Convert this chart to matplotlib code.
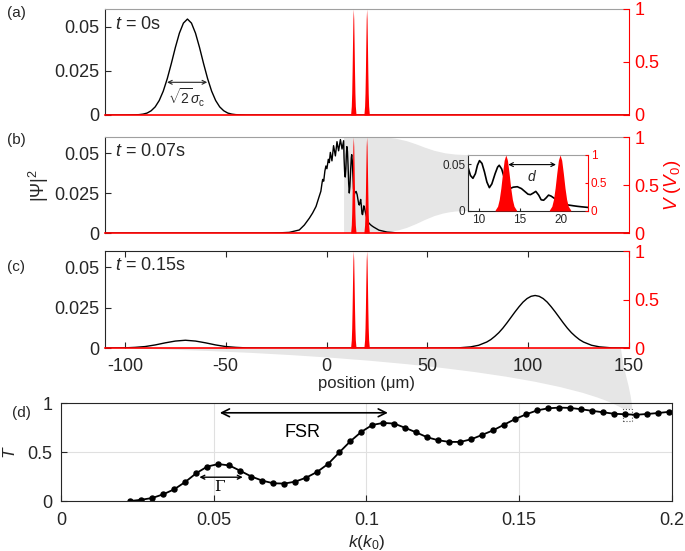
import matplotlib
matplotlib.use('Agg')
import matplotlib.pyplot as plt
from matplotlib.path import Path
from matplotlib.patches import PathPatch, Rectangle

plt.rcParams['font.family'] = ['Liberation Sans', 'DejaVu Sans']
plt.rcParams['mathtext.fontset'] = 'custom'
plt.rcParams['mathtext.rm'] = 'Liberation Sans'
plt.rcParams['mathtext.it'] = 'Liberation Sans:italic'
plt.rcParams['mathtext.bf'] = 'Liberation Sans:bold'
plt.rcParams['axes.unicode_minus'] = False

INK = '#262626'
FAN = '#e6e6e6'

# ---- values ----
# (a) t = 0 s
pos_a = [-110, -100, -95, -93, -91, -89, -87, -85, -83, -81, -79, -77, -75, -73, -71, -69,
         -67, -65, -63, -61, -59, -57, -55, -53, -51, -49, -47, -45, -43, -40, -30, 150]
psi_a = [0, 0, 0.0001, 0.0002, 0.0005, 0.0011, 0.0024, 0.0046, 0.0082, 0.0135, 0.0206, 0.0291,
         0.0382, 0.0463, 0.0520, 0.0543, 0.0520, 0.0463, 0.0382, 0.0291, 0.0206, 0.0135, 0.0082,
         0.0046, 0.0024, 0.0011, 0.0005, 0.0002, 0.0001, 0, 0, 0]

# (b) t = 0.07 s
pos_b = [-110, -30, -23.5, -18.5, -13.5, -11.0, -8.5, -6.9, -5.2, -4.4, -3.6, -2.8, -2.2, -1.9,
         -1.4, -0.8, -0.3, 0.2, 0.9, 1.4, 1.9, 2.7, 3.5, 4.4, 5.2, 6.0, 6.9, 7.7, 8.5, 8.7, 9.0,
         9.3, 9.6, 9.85, 10.1, 10.4, 10.7, 11.0, 11.3, 11.6, 12.0, 12.3, 12.5, 12.8, 13.1, 13.4,
         13.8, 14.2, 14.7, 15.2, 15.6, 16.0, 16.3, 16.6, 16.95, 17.3, 17.6, 17.9, 18.2, 18.5,
         18.8, 19.3, 19.9, 20.4, 20.9, 21.5, 22.0, 22.5, 23.3, 26.0, 30.0, 35.0, 40.0, 150]
psi_b = [0, 0, 0.0001, 0.0004, 0.0019, 0.0050, 0.0093, 0.0125, 0.0166, 0.0198, 0.0230, 0.0261,
         0.0314, 0.0335, 0.0324, 0.0388, 0.0419, 0.0402, 0.0461, 0.0440, 0.0504, 0.0451, 0.0546,
         0.0482, 0.0571, 0.0514, 0.0584, 0.0525, 0.0577, 0.047, 0.038, 0.035, 0.040, 0.049,
         0.054, 0.051, 0.042, 0.031, 0.025, 0.029, 0.040, 0.047, 0.049, 0.045, 0.036, 0.028,
         0.024, 0.0255, 0.026, 0.024, 0.021, 0.018, 0.0175, 0.019, 0.021, 0.017, 0.012, 0.0115,
         0.014, 0.017, 0.016, 0.013, 0.010, 0.008, 0.0064, 0.0056, 0.005, 0.0045, 0.0038,
         0.0018, 0.0006, 0.0001, 0, 0]

# (c) t = 0.15 s
pos_c = [-110, -100, -95, -90, -85, -80, -75, -70, -65, -60, -55, -50, -45, -40, -30, 55,
         65.5, 71.5, 75.5, 79.5, 81.5, 83.5, 85.5, 87.5, 89.5, 91.5, 93.5, 95.5, 97.5, 99.5,
         101.5, 103.5, 105.5, 107.5, 109.5, 111.5, 113.5, 115.5, 117.5, 119.5, 121.5, 123.5,
         125.5, 127.5, 131.5, 135.5, 141.5, 150]
psi_c = [0, 0.0001, 0.0004, 0.0009, 0.0019, 0.0032, 0.0043, 0.0048, 0.0043, 0.0032, 0.0019,
         0.0009, 0.0004, 0.0001, 0, 0, 0.0001, 0.0007, 0.0017, 0.0037, 0.0052, 0.0072, 0.0095,
         0.0123, 0.0155, 0.0189, 0.0223, 0.0255, 0.0284, 0.0306, 0.0320, 0.0325, 0.0320, 0.0306,
         0.0284, 0.0255, 0.0223, 0.0189, 0.0155, 0.0123, 0.0095, 0.0072, 0.0052, 0.0037, 0.0017,
         0.0007, 0.0001, 0]

# double-barrier potential V/V0
barrier_centers = [13.3, 19.9]
barrier_dx = [-1.3, -1.0, -0.8, -0.6, -0.4, -0.2, 0.0, 0.2, 0.4, 0.6, 0.8, 1.0, 1.3]
barrier_v = [0.015, 0.085, 0.206, 0.411, 0.674, 0.906, 1.0, 0.906, 0.674, 0.411, 0.206, 0.085, 0.015]

# (d) transmission
k_vals = [0.0227, 0.0263, 0.0299, 0.0335, 0.0371, 0.0407, 0.0443, 0.0479, 0.0515, 0.0551,
          0.0587, 0.0623, 0.0659, 0.0695, 0.0731, 0.0767, 0.0803, 0.0839, 0.0875, 0.0911,
          0.0947, 0.0983, 0.1019, 0.1055, 0.1091, 0.1127, 0.1163, 0.1199, 0.1235, 0.1271,
          0.1307, 0.1343, 0.1379, 0.1415, 0.1451, 0.1487, 0.1523, 0.1559, 0.1595, 0.1631,
          0.1667, 0.1703, 0.1739, 0.1775, 0.1811, 0.1847, 0.1883, 0.1919, 0.1955, 0.1991]
T_vals = [0.0, 0.013, 0.031, 0.069, 0.12, 0.195, 0.284, 0.352, 0.377, 0.363, 0.308, 0.25,
          0.208, 0.181, 0.178, 0.198, 0.239, 0.298, 0.38, 0.496, 0.609, 0.705, 0.776, 0.797,
          0.79, 0.746, 0.70, 0.65, 0.62, 0.603, 0.603, 0.63, 0.675, 0.722, 0.78, 0.837, 0.885,
          0.925, 0.946, 0.953, 0.95, 0.936, 0.92, 0.905, 0.89, 0.885, 0.88, 0.888, 0.898, 0.91]

zoom_x = (8.7, 23.3)
box_k = (0.184, 0.187)
box_T = (0.82, 0.94)


def draw_barriers(tw):
    for c in barrier_centers:
        xs = [c + d for d in barrier_dx]
        tw.fill_between(xs, 0, barrier_v, color='red', lw=0)


def main_panel(rect, pos, psi, t_label, fs=13):
    ax = fig.add_axes(rect)
    ax.set_facecolor('none')
    ax.plot(pos, psi, color='black', lw=1.0)
    ax.set_xlim(-110, 150)
    ax.set_ylim(0, 0.06)
    ax.set_yticks([0, 0.025, 0.05])
    ax.set_yticklabels(['0', '0.025', '0.05'])
    ax.tick_params(direction='in', length=4, labelsize=fs, colors=INK, pad=4)
    ax.tick_params(axis='x', bottom=False, labelbottom=False)
    ax.spines['left'].set_color(INK)
    ax.spines['top'].set_color('#a0a0a0')
    ax.spines['bottom'].set_color('red')
    ax.spines['bottom'].set_linewidth(1.2)
    ax.spines['right'].set_visible(False)
    ax.text(0.02, 0.85, t_label, transform=ax.transAxes, fontsize=fs, va='center', color=INK)

    tw = ax.twinx()
    tw.set_ylim(0, 1)
    tw.set_yticks([0, 0.5, 1])
    tw.set_yticklabels(['0', '0.5', '1'])
    tw.tick_params(direction='in', length=4, labelsize=fs, colors='red', pad=4)
    for s in ['left', 'top', 'bottom']:
        tw.spines[s].set_visible(False)
    tw.spines['right'].set_color('red')
    draw_barriers(tw)
    return ax, tw


fig = plt.figure(figsize=(6.85, 5.51), dpi=100)

ax_a, tw_a = main_panel([0.153, 0.7913, 0.765, 0.1924], pos_a, psi_a, r'$t$ = 0s')
ax_b, tw_b = main_panel([0.153, 0.5771, 0.765, 0.1742], pos_b, psi_b, r'$t$ = 0.07s')
ax_c, tw_c = main_panel([0.153, 0.3684, 0.765, 0.1760], pos_c, psi_c, r'$t$ = 0.15s')

# (a) width annotation
ax_a.annotate('', xy=(-79.1, 0.0185), xytext=(-59.2, 0.0185),
              arrowprops=dict(arrowstyle='<->', lw=0.8, color=INK, mutation_scale=7,
                              shrinkA=0, shrinkB=0))
ax_a.text(-69.2, 0.0098, r'$\sqrt{2}\sigma_{\rm c}$', fontsize=10, ha='center', va='center', color=INK)

# (b) labels
ax_b.set_ylabel(r'$|\Psi|^2$', fontsize=13, color=INK)
ax_b.yaxis.set_label_coords(-0.103, 0.5)
tw_b.set_ylabel(r'$V$ ($V_0$)', fontsize=13.5, color='red')
tw_b.yaxis.set_label_coords(1.063, 0.5)

# (c) x axis
ax_c.tick_params(axis='x', bottom=True, labelbottom=True, top=True, direction='in', length=4, pad=7.5)
ax_c.spines['top'].set_color(INK)
ax_c.set_xticks([-100, -50, 0, 50, 100, 150])
ax_c.set_xticklabels(['-100', '-50', '0', '50', '100', '150'])
ax_c.set_xlabel('position (μm)', fontsize=12, color=INK)
ax_c.xaxis.set_label_coords(0.5, -0.29)

# inset in (b)
ax_in = fig.add_axes([0.6832, 0.6171, 0.1752, 0.1016])
ax_in.set_facecolor('white')
ax_in.plot(pos_b, psi_b, color='black', lw=1.2)
ax_in.set_xlim(*zoom_x)
ax_in.set_ylim(0, 0.06)
ax_in.set_xticks([10, 15, 20])
ax_in.set_yticks([0, 0.05])
ax_in.set_yticklabels(['0', '0.05'])
ax_in.tick_params(direction='in', length=2.5, labelsize=8.5, colors=INK, pad=2)
ax_in.spines['top'].set_color('#a0a0a0')
ax_in.spines['right'].set_visible(False)
for s in ['left', 'bottom']:
    ax_in.spines[s].set_color(INK)
tw_in = ax_in.twinx()
tw_in.set_ylim(0, 1)
tw_in.set_yticks([0, 0.5, 1])
tw_in.set_yticklabels(['0', '0.5', '1'])
tw_in.tick_params(direction='in', length=2.5, labelsize=8.5, colors='red', pad=2)
for s in ['left', 'top', 'bottom']:
    tw_in.spines[s].set_visible(False)
tw_in.spines['right'].set_color('red')
draw_barriers(tw_in)
ax_in.annotate('', xy=(13.6, 0.0497), xytext=(19.4, 0.0497),
               arrowprops=dict(arrowstyle='<->', lw=0.8, color='black', mutation_scale=7,
                               shrinkA=0, shrinkB=0))
ax_in.text(16.55, 0.0365, r'$d$', fontsize=10, ha='center', va='center', color=INK)

# (d) transmission
ax_d = fig.add_axes([0.089, 0.0907, 0.892, 0.1779])
ax_d.set_facecolor('none')
ax_d.grid(True, color='#e0e0e0', lw=0.8)
ax_d.set_axisbelow(True)
ax_d.plot(k_vals, T_vals, '-o', color='black', lw=1.3, ms=3.6)
ax_d.set_xlim(0, 0.2)
ax_d.set_ylim(0, 1)
ax_d.set_xticks([0, 0.05, 0.1, 0.15, 0.2])
ax_d.set_xticklabels(['0', '0.05', '0.1', '0.15', '0.2'])
ax_d.set_yticks([0, 0.5, 1])
ax_d.set_yticklabels(['0', '0.5', '1'])
ax_d.tick_params(direction='in', length=4, labelsize=13, colors=INK, pad=6)
ax_d.tick_params(axis='x', pad=8)
for s in ax_d.spines.values():
    s.set_color(INK)
ax_d.set_xlabel(r'$k(k_0)$', fontsize=12.5, color=INK)
ax_d.xaxis.set_label_coords(0.5, -0.33)
ax_d.set_ylabel(r'$T$', fontsize=12.5, color=INK)
ax_d.yaxis.set_label_coords(-0.07, 0.5)
ax_d.add_patch(Rectangle((box_k[0], box_T[0]), box_k[1] - box_k[0], box_T[1] - box_T[0],
                         fill=False, ls=':', ec='#555555', lw=0.8))
ax_d.annotate('', xy=(0.052, 0.9), xytext=(0.107, 0.9),
              arrowprops=dict(arrowstyle='<->', lw=1.2, color='black', mutation_scale=14,
                              shrinkA=0, shrinkB=0))
ax_d.text(0.079, 0.695, 'FSR', fontsize=13, ha='center', va='center', color='black')
ax_d.annotate('', xy=(0.0453, 0.243), xytext=(0.0595, 0.243),
              arrowprops=dict(arrowstyle='<->', lw=1.0, color='black', mutation_scale=7,
                              shrinkA=0, shrinkB=0))
ax_d.text(0.0517, 0.147, 'Γ', fontsize=11, ha='center', va='center', family='DejaVu Serif')

# panel letters
for lab, x, y in [('(a)', 0.0234, 0.976), ('(b)', 0.0234, 0.746),
                  ('(c)', 0.0234, 0.516), ('(d)', 0.032, 0.250)]:
    fig.text(x, y, lab, fontsize=11, ha='center', va='center', color=INK)

# grey zoom fans (figure-level decorations)
to_fig = fig.transFigure.inverted()
M, L, C4, CL = Path.MOVETO, Path.LINETO, Path.CURVE4, Path.CLOSEPOLY

F = ax_b.transData.transform((zoom_x[0], 0))
A = ax_b.transData.transform((zoom_x[0], 0.06))
B = ax_b.transData.transform((zoom_x[1], 0.06))
E = ax_b.transData.transform((zoom_x[1], 0))
C = ax_in.transAxes.transform((0, 1))
D = ax_in.transAxes.transform((0, 0))
h = 0.5 * (C[0] - B[0])
verts = [F, A, B, (B[0] + h, B[1]), (C[0] - h, C[1]), C, D,
         (D[0] - h, D[1]), (E[0] + h, E[1]), E, F]
codes = [M, L, L, C4, C4, C4, L, C4, C4, C4, CL]
fig.add_artist(PathPatch(Path(to_fig.transform(verts), codes), transform=fig.transFigure,
                         fc=FAN, ec='none', zorder=-1))

P = ax_c.transAxes.transform((0, 0))
Q = ax_c.transAxes.transform((0.985, 0))
S = ax_d.transData.transform((box_k[0], box_T[1]))
R = ax_d.transData.transform((box_k[1], box_T[1]))
verts = [P, Q, (Q[0] + 3, Q[1] - 27), (R[0] - 2, R[1] + 24), R, S,
         (S[0] - 62, S[1] + 37), (P[0] + 225, P[1] - 4), P, P]
codes = [M, L, C4, C4, C4, L, C4, C4, C4, CL]
fig.add_artist(PathPatch(Path(to_fig.transform(verts), codes), transform=fig.transFigure,
                         fc=FAN, ec='none', zorder=-1))

fig.savefig('out.png', dpi=100)
